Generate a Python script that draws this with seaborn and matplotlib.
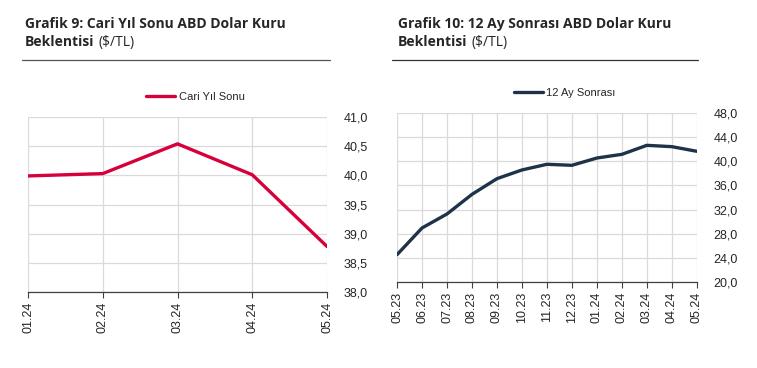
import matplotlib
matplotlib.use("Agg")
import matplotlib.pyplot as plt
from matplotlib.ticker import FuncFormatter, MultipleLocator
import seaborn as sns
import pandas as pd

# data
cari_months = ['01.24', '02.24', '03.24', '04.24', '05.24']
cari_values = [39.99, 40.03, 40.54, 40.01, 38.78]

ay12_months = ['05.23', '06.23', '07.23', '08.23', '09.23', '10.23', '11.23',
               '12.23', '01.24', '02.24', '03.24', '04.24', '05.24']
ay12_values = [24.53, 28.95, 31.27, 34.52, 37.12, 38.56, 39.50,
               39.33, 40.54, 41.15, 42.64, 42.42, 41.65]

RED = '#D6003B'
NAVY = '#1E3349'

sns.set_style('white')
plt.rcParams['font.family'] = ['Liberation Sans', 'DejaVu Sans']

fig = plt.figure(figsize=(7.57, 3.68), dpi=100)


def comma(v, pos):
    return f'{v:.1f}'.replace('.', ',')


def draw(ax, months, values, color, label, ylim, step):
    df = pd.DataFrame({'x': range(len(months)), 'y': values})
    sns.lineplot(data=df, x='x', y='y', ax=ax, color=color, linewidth=2.4,
                 label=label)
    ax.set_xlim(0, len(months) - 1)
    ax.set_ylim(*ylim)
    ax.set_xticks(range(len(months)))
    ax.set_xticklabels(months, rotation=90, fontsize=9)
    ax.yaxis.set_major_locator(MultipleLocator(step))
    ax.yaxis.set_major_formatter(FuncFormatter(comma))
    ax.yaxis.tick_right()
    ax.tick_params(axis='y', labelsize=9, length=0, pad=12)
    ax.tick_params(axis='x', length=4, width=0.8, color='#404040',
                   direction='out', bottom=True, pad=3)
    ax.grid(True, color='#DADADA', linewidth=0.9)
    for s in ['top', 'left', 'right']:
        ax.spines[s].set_visible(False)
    ax.spines['bottom'].set_color('#404040')
    ax.spines['bottom'].set_linewidth(0.9)
    ax.set_xlabel('')
    ax.set_ylabel('')
    ax.legend(loc='lower center', bbox_to_anchor=(0.56, 1.03),
              frameon=False, fontsize=8, handlelength=2.6,
              handletextpad=0.3)
    return ax


ax1 = fig.add_axes([0.037, 0.2065, 0.395, 0.4755])
draw(ax1, cari_months, cari_values, RED, 'Cari Yıl Sonu', (38.0, 41.0), 0.5)

ax2 = fig.add_axes([0.5245, 0.2337, 0.396, 0.4593])
draw(ax2, ay12_months, ay12_values, NAVY, '12 Ay Sonrası', (20.0, 48.0), 4.0)

# titles
tfont = ['Open Sans', 'DejaVu Sans']
renderer = fig.canvas.get_renderer()


def title(x0, line1):
    fig.text(x0 / 757, 1 - 28 / 368, line1, fontsize=10, fontweight='bold',
             family=tfont, va='baseline')
    b = fig.text(x0 / 757, 1 - 46 / 368, 'Beklentisi', fontsize=10,
                 fontweight='bold', family=tfont, va='baseline')
    bb = b.get_window_extent(renderer=renderer)
    fig.text((bb.x1 + 4) / 757, 1 - 46 / 368, '($/TL)', fontsize=10,
             family=tfont, va='baseline')


title(25, 'Grafik 9: Cari Yıl Sonu ABD Dolar Kuru')
title(398, 'Grafik 10: 12 Ay Sonrası ABD Dolar Kuru')

# rules under titles
fig.add_artist(plt.Line2D([22 / 757, 330 / 757], [1 - 60 / 368] * 2,
                          color='#555555', linewidth=0.9))
fig.add_artist(plt.Line2D([392 / 757, 698 / 757], [1 - 60 / 368] * 2,
                          color='#333333', linewidth=0.9))

fig.savefig('out.png', dpi=100)
